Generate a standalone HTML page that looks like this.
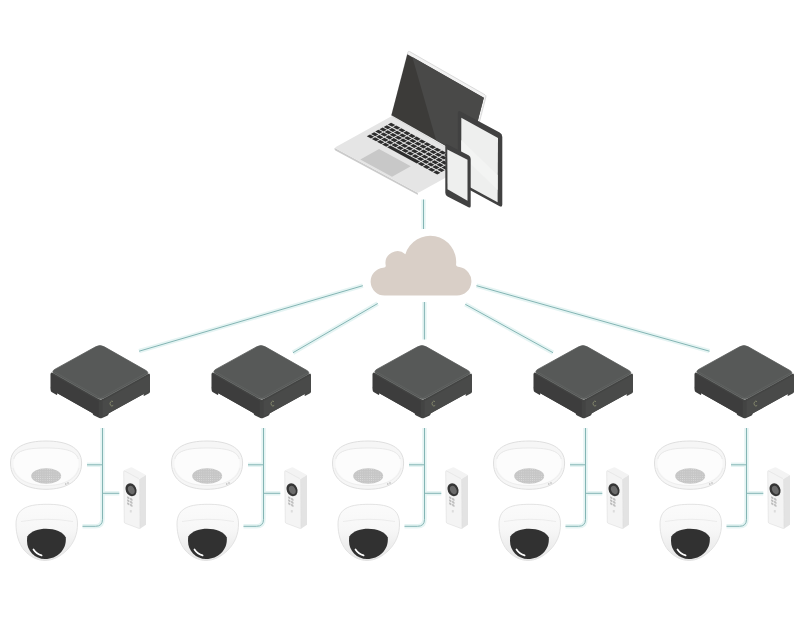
<!DOCTYPE html>
<html><head><meta charset="utf-8"><title>Network diagram</title>
<style>html,body{margin:0;padding:0;background:#fff;width:805px;height:644px;overflow:hidden;font-family:"Liberation Sans",sans-serif;}svg{display:block}</style>
</head><body>
<svg width="805" height="644" viewBox="0 0 805 644">
<defs><linearGradient id="hg" x1="0" y1="0" x2="0" y2="1"><stop offset="0" stop-color="#fbfbfb"/><stop offset="0.45" stop-color="#f7f7f7"/><stop offset="1" stop-color="#e6e6e6"/></linearGradient><pattern id="dots" width="2.2" height="2.2" patternUnits="userSpaceOnUse"><circle cx="1.1" cy="1.1" r="0.45" fill="#e2e2e2"/></pattern></defs>
<rect width="805" height="644" fill="#ffffff"/>
<line x1="423.5" y1="199.5" x2="423.5" y2="229" stroke="#e5f4f3" stroke-width="4.5"/><line x1="424.4" y1="302" x2="424.4" y2="339.5" stroke="#e5f4f3" stroke-width="4.5"/><line x1="362.8" y1="285.7" x2="139.1" y2="351.2" stroke="#e5f4f3" stroke-width="4.5"/><line x1="377.7" y1="303.5" x2="293" y2="352.7" stroke="#e5f4f3" stroke-width="4.5"/><line x1="465.3" y1="304.3" x2="553" y2="352.7" stroke="#e5f4f3" stroke-width="4.5"/><line x1="476.5" y1="285.7" x2="709.5" y2="351.2" stroke="#e5f4f3" stroke-width="4.5"/>
<line x1="423.5" y1="199.5" x2="423.5" y2="229" stroke="#84b5b4" stroke-width="1"/><line x1="424.4" y1="302" x2="424.4" y2="339.5" stroke="#84b5b4" stroke-width="1"/><line x1="362.8" y1="285.7" x2="139.1" y2="351.2" stroke="#84b5b4" stroke-width="1"/><line x1="377.7" y1="303.5" x2="293" y2="352.7" stroke="#84b5b4" stroke-width="1"/><line x1="465.3" y1="304.3" x2="553" y2="352.7" stroke="#84b5b4" stroke-width="1"/><line x1="476.5" y1="285.7" x2="709.5" y2="351.2" stroke="#84b5b4" stroke-width="1"/>
<path fill="#d9cfc7" d="M384.6,295.6 A14,14 0 0 1 383.14,267.68 Q386.38,267.71 385.68,265.28 A12,12 0 0 1 405.36,254.13 A26,26 0 0 1 456.10,264.07 Q455.70,266.86 459.50,267.02 A14.4,14.4 0 0 1 457,295.6 Z"/>
<path d="M334.5,148.7 Q334.5,147.7 335.38,148.18 L417.12,192.42 Q418,192.9 418,193.9 L418,194.1 Q418,195.1 417.12,194.62 L335.38,150.38 Q334.5,149.9 334.5,148.9 Z" fill="#cbcbcb" /><path d="M335.82,148.41 Q334.5,147.7 335.81,146.97 L390.09,116.93 Q391.4,116.2 392.72,116.91 L473.58,160.69 Q474.9,161.4 473.59,162.13 L419.31,192.17 Q418,192.9 416.68,192.19 Z" fill="#e5e5e5" /><path d="M407.92,52.25 Q408.3,50.8 409.6,51.55 L485,94.75 Q486.3,95.5 485.92,96.95 L469.78,159.45 Q469.4,160.9 468.1,160.15 L392.7,116.95 Q391.4,116.2 391.78,114.75 Z" fill="#f2f2f2" stroke="#d3d3d3" stroke-width="0.8"/><polygon points="407.3,54.3 483.8,97.7 467.9,158.6 391.4,115.2" fill="#3c3b39" /><polygon points="412.3,57.1 483.8,97.7 467.9,158.6 436,140" fill="#494948" /><polygon points="366.79,136.27 369.98,134.5 374.17,136.76 370.97,138.53" fill="#2d2d2d" /><polygon points="371.89,139.03 375.08,137.26 379.26,139.53 376.07,141.29" fill="#2d2d2d" /><polygon points="376.99,141.79 380.18,140.02 384.36,142.29 381.17,144.05" fill="#2d2d2d" /><polygon points="382.09,144.55 385.28,142.78 389.46,145.05 386.27,146.82" fill="#2d2d2d" /><polygon points="387.19,147.31 390.38,145.54 420.06,161.61 416.86,163.38" fill="#2d2d2d" /><polygon points="417.78,163.87 420.98,162.11 425.16,164.37 421.96,166.14" fill="#2d2d2d" /><polygon points="422.88,166.64 426.08,164.87 430.26,167.13 427.06,168.9" fill="#2d2d2d" /><polygon points="427.98,169.4 431.18,167.63 435.36,169.89 432.16,171.66" fill="#2d2d2d" /><polygon points="433.08,172.16 436.28,170.39 440.46,172.65 437.26,174.42" fill="#2d2d2d" /><polygon points="371.01,133.93 374.2,132.17 378.39,134.43 375.19,136.2" fill="#2d2d2d" /><polygon points="376.11,136.69 379.3,134.93 383.48,137.19 380.29,138.96" fill="#2d2d2d" /><polygon points="381.21,139.46 384.4,137.69 388.58,139.95 385.39,141.72" fill="#2d2d2d" /><polygon points="386.31,142.22 389.5,140.45 393.68,142.71 390.49,144.48" fill="#2d2d2d" /><polygon points="391.41,144.98 394.6,143.21 398.78,145.47 395.59,147.24" fill="#2d2d2d" /><polygon points="396.51,147.74 399.7,145.97 403.88,148.23 400.69,150" fill="#2d2d2d" /><polygon points="401.61,150.5 404.8,148.73 408.98,150.99 405.79,152.76" fill="#2d2d2d" /><polygon points="406.7,153.26 409.9,151.49 414.08,153.75 410.89,155.52" fill="#2d2d2d" /><polygon points="411.8,156.02 415,154.25 419.18,156.51 415.99,158.28" fill="#2d2d2d" /><polygon points="416.9,158.78 420.1,157.01 424.28,159.27 421.08,161.04" fill="#2d2d2d" /><polygon points="422,161.54 425.2,159.77 429.38,162.03 426.18,163.8" fill="#2d2d2d" /><polygon points="427.1,164.3 430.3,162.53 434.48,164.79 431.28,166.56" fill="#2d2d2d" /><polygon points="432.2,167.06 435.4,165.29 439.58,167.55 436.38,169.32" fill="#2d2d2d" /><polygon points="437.3,169.82 440.5,168.05 444.68,170.31 441.48,172.08" fill="#2d2d2d" /><polygon points="375.23,131.6 378.42,129.83 382.61,132.09 379.41,133.86" fill="#2d2d2d" /><polygon points="380.33,134.36 383.52,132.59 387.7,134.85 384.51,136.62" fill="#2d2d2d" /><polygon points="385.43,137.12 388.62,135.35 392.8,137.61 389.61,139.38" fill="#2d2d2d" /><polygon points="390.53,139.88 393.72,138.11 397.9,140.37 394.71,142.14" fill="#2d2d2d" /><polygon points="395.63,142.64 398.82,140.87 403,143.13 399.81,144.9" fill="#2d2d2d" /><polygon points="400.73,145.4 403.92,143.63 408.1,145.89 404.91,147.66" fill="#2d2d2d" /><polygon points="405.83,148.16 409.02,146.39 413.2,148.65 410.01,150.42" fill="#2d2d2d" /><polygon points="410.92,150.92 414.12,149.15 418.3,151.42 415.11,153.18" fill="#2d2d2d" /><polygon points="416.02,153.68 419.22,151.91 423.4,154.18 420.21,155.94" fill="#2d2d2d" /><polygon points="421.12,156.44 424.32,154.67 428.5,156.94 425.3,158.71" fill="#2d2d2d" /><polygon points="426.22,159.2 429.42,157.43 433.6,159.7 430.4,161.47" fill="#2d2d2d" /><polygon points="431.32,161.96 434.52,160.19 438.7,162.46 435.5,164.23" fill="#2d2d2d" /><polygon points="436.42,164.72 439.62,162.95 443.8,165.22 440.6,166.99" fill="#2d2d2d" /><polygon points="441.52,167.48 444.72,165.71 448.9,167.98 445.7,169.75" fill="#2d2d2d" /><polygon points="379.45,129.26 382.64,127.49 386.83,129.76 383.63,131.53" fill="#2d2d2d" /><polygon points="384.55,132.02 387.74,130.25 391.92,132.52 388.73,134.29" fill="#2d2d2d" /><polygon points="389.65,134.78 392.84,133.01 397.02,135.28 393.83,137.05" fill="#2d2d2d" /><polygon points="394.75,137.54 397.94,135.77 402.12,138.04 398.93,139.81" fill="#2d2d2d" /><polygon points="399.85,140.3 403.04,138.53 407.22,140.8 404.03,142.57" fill="#2d2d2d" /><polygon points="404.95,143.06 408.14,141.29 412.32,143.56 409.13,145.33" fill="#2d2d2d" /><polygon points="410.05,145.82 413.24,144.06 417.42,146.32 414.23,148.09" fill="#2d2d2d" /><polygon points="415.14,148.58 418.34,146.82 422.52,149.08 419.33,150.85" fill="#2d2d2d" /><polygon points="420.24,151.35 423.44,149.58 427.62,151.84 424.43,153.61" fill="#2d2d2d" /><polygon points="425.34,154.11 428.54,152.34 432.72,154.6 429.52,156.37" fill="#2d2d2d" /><polygon points="430.44,156.87 433.64,155.1 437.82,157.36 434.62,159.13" fill="#2d2d2d" /><polygon points="435.54,159.63 438.74,157.86 442.92,160.12 439.72,161.89" fill="#2d2d2d" /><polygon points="440.64,162.39 443.84,160.62 448.02,162.88 444.82,164.65" fill="#2d2d2d" /><polygon points="445.74,165.15 448.94,163.38 453.12,165.64 449.92,167.41" fill="#2d2d2d" /><polygon points="383.67,126.93 386.86,125.16 391.05,127.42 387.85,129.19" fill="#2d2d2d" /><polygon points="388.77,129.69 391.96,127.92 396.14,130.18 392.95,131.95" fill="#2d2d2d" /><polygon points="393.87,132.45 397.06,130.68 401.24,132.94 398.05,134.71" fill="#2d2d2d" /><polygon points="398.97,135.21 402.16,133.44 406.34,135.7 403.15,137.47" fill="#2d2d2d" /><polygon points="404.07,137.97 407.26,136.2 411.44,138.46 408.25,140.23" fill="#2d2d2d" /><polygon points="409.17,140.73 412.36,138.96 416.54,141.22 413.35,142.99" fill="#2d2d2d" /><polygon points="414.27,143.49 417.46,141.72 421.64,143.98 418.45,145.75" fill="#2d2d2d" /><polygon points="419.36,146.25 422.56,144.48 426.74,146.74 423.55,148.51" fill="#2d2d2d" /><polygon points="424.46,149.01 427.66,147.24 431.84,149.5 428.65,151.27" fill="#2d2d2d" /><polygon points="429.56,151.77 432.76,150 436.94,152.26 433.74,154.03" fill="#2d2d2d" /><polygon points="434.66,154.53 437.86,152.76 442.04,155.02 438.84,156.79" fill="#2d2d2d" /><polygon points="439.76,157.29 442.96,155.52 447.14,157.78 443.94,159.55" fill="#2d2d2d" /><polygon points="444.86,160.05 448.06,158.28 452.24,160.54 449.04,162.31" fill="#2d2d2d" /><polygon points="449.96,162.81 453.16,161.04 457.34,163.31 454.14,165.07" fill="#2d2d2d" /><polygon points="387.89,124.59 391.08,122.82 395.27,125.08 392.07,126.85" fill="#2d2d2d" /><polygon points="392.99,127.35 396.18,125.58 400.37,127.84 397.17,129.61" fill="#2d2d2d" /><polygon points="398.09,130.11 401.28,128.34 405.46,130.6 402.27,132.37" fill="#2d2d2d" /><polygon points="403.19,132.87 406.38,131.1 410.56,133.36 407.37,135.13" fill="#2d2d2d" /><polygon points="408.29,135.63 411.48,133.86 415.66,136.13 412.47,137.89" fill="#2d2d2d" /><polygon points="413.39,138.39 416.58,136.62 420.76,138.89 417.57,140.65" fill="#2d2d2d" /><polygon points="418.49,141.15 421.68,139.38 425.86,141.65 422.67,143.42" fill="#2d2d2d" /><polygon points="423.59,143.91 426.78,142.14 430.96,144.41 427.77,146.18" fill="#2d2d2d" /><polygon points="428.68,146.67 431.88,144.9 436.06,147.17 432.87,148.94" fill="#2d2d2d" /><polygon points="433.78,149.43 436.98,147.66 441.16,149.93 437.96,151.7" fill="#2d2d2d" /><polygon points="438.88,152.19 442.08,150.42 446.26,152.69 443.06,154.46" fill="#2d2d2d" /><polygon points="443.98,154.95 447.18,153.18 451.36,155.45 448.16,157.22" fill="#2d2d2d" /><polygon points="449.08,157.71 452.28,155.95 456.46,158.21 453.26,159.98" fill="#2d2d2d" /><polygon points="454.18,160.47 457.38,158.71 461.56,160.97 458.36,162.74" fill="#2d2d2d" /><polygon points="360.29,159.48 379.07,149.08 410.8,166.26 392.02,176.66" fill="#c8c8c8" /><path d="M457.9,113.1 Q457.9,110.1 460.54,111.52 L499.66,132.58 Q502.3,134 502.3,137 L502.3,204.6 Q502.3,207.6 499.66,206.18 L460.54,185.12 Q457.9,183.7 457.9,180.7 Z" fill="#414141" /><polygon points="461.3,117.8 498,138 497.6,202.3 461.3,182.6" fill="#eeefee" /><polygon points="461.3,140 497.6,175 497.6,190 461.3,155" fill="#f3f4f3" /><path d="M445.3,145.8 Q445.3,143.3 447.52,144.45 L468.48,155.25 Q470.7,156.4 470.7,158.9 L470.7,205.9 Q470.7,208.4 468.48,207.25 L447.52,196.45 Q445.3,195.3 445.3,192.8 Z" fill="#414141" /><polygon points="447.3,149.4 467.5,159.8 467.5,200.8 447.5,189.2" fill="#eeefee" />
<g id="unit"><path d="M102.5,428 V519.3 Q102.5,526.3 95.5,526.3 H82.5" fill="none" stroke="#e5f4f3" stroke-width="4.5"/><path d="M87,464.8 H102.6" fill="none" stroke="#e5f4f3" stroke-width="4.5"/><path d="M102.6,493.3 H119.3" fill="none" stroke="#e5f4f3" stroke-width="4.5"/><path d="M102.5,428 V519.3 Q102.5,526.3 95.5,526.3 H82.5" fill="none" stroke="#84b5b4" stroke-width="1"/><path d="M87,464.8 H102.6" fill="none" stroke="#84b5b4" stroke-width="1"/><path d="M102.6,493.3 H119.3" fill="none" stroke="#84b5b4" stroke-width="1"/><path d="M50.7,374.1 Q50.7,371.6 52.87,372.83 L98.53,398.77 Q100.7,400 102.89,398.79 L147.81,374.01 Q150,372.8 150,375.3 L150,388.1 Q150,390.6 147.81,391.81 L102.89,416.59 Q100.7,417.8 98.53,416.57 L52.87,390.63 Q50.7,389.4 50.7,386.9 Z" fill="#434443" /><path d="M50.7,387.4 Q50.7,386.4 51.57,386.89 L56.33,389.6 Q57.2,390.09 57.2,391.09 L57.2,394.29 Q57.2,395.29 56.33,394.8 L51.57,392.09 Q50.7,391.6 50.7,390.6 Z" fill="#3c3c3c" /><path d="M150,388.6 Q150,387.6 149.12,388.08 L144.47,390.65 Q143.59,391.14 143.59,392.14 L143.59,395.34 Q143.59,396.34 144.47,395.85 L149.12,393.28 Q150,392.8 150,391.8 Z" fill="#474847" /><path d="M92.7,411.76 Q92.7,410.26 94,411 L99.4,414.06 Q100.7,414.8 102.01,414.08 L107.27,411.17 Q108.59,410.45 108.59,411.95 L108.59,413.65 Q108.59,415.15 107.21,415.73 L102.08,417.91 Q100.7,418.5 99.33,417.89 L94.07,415.56 Q92.7,414.96 92.7,413.46 Z" fill="#424342" /><polygon points="50.7,373.6 100.7,402 100.7,417.8 50.7,389.4" fill="#3d3d3d" /><polygon points="100.7,402 150,374.8 150,390.6 100.7,417.8" fill="#494a49" /><polygon points="98.7,400.86 100.7,402 102.67,400.91 102.67,416.71 100.7,417.8 98.7,416.66" fill="#434443" /><path d="M95.62,346.82 Q100,344.4 104.35,346.87 L145.65,370.33 Q150,372.8 145.62,375.22 L105.08,397.58 Q100.7,400 96.35,397.53 L55.05,374.07 Q50.7,371.6 55.08,369.18 Z" fill="#575958" stroke="#5b5d5c" stroke-width="0.8"/><path d="M54.18,371.64 L100.68,398.05 L146.52,372.76" fill="none" stroke="#626463" stroke-width="0.7" stroke-linejoin="round"/><path d="M113,401.6 A1.9,2.4 0 1 0 113.2,405.4" fill="none" stroke="#8e9272" stroke-width="0.8"/><path d="M10.5,463 C10.5,447 26,441 46,441 C66,441 81.6,447 81.6,463 C81.6,481 66,489.3 46,489.3 C26,489.3 10.5,481 10.5,463 Z" fill="#f6f6f6" stroke="#dbdbdb" stroke-width="0.9"/><path d="M13.5,463 C13.5,451 27,448 46,448 C65,448 78.6,451 78.6,463 C78.6,477 64,485.5 46,485.5 C28,485.5 13.5,477 13.5,463 Z" fill="#fcfcfc"/><path d="M13.8,459 C16,450 29,448 46,448 C63,448 76,450 78.3,459" fill="none" stroke="#e4e4e4" stroke-width="0.8"/><path d="M13,468 C16,480 29,485.5 46,485.5 C63,485.5 76,480 79,468" fill="none" stroke="#ebebeb" stroke-width="0.8"/><ellipse cx="46.2" cy="476" rx="15" ry="7.8" fill="#c6c6c6"/><ellipse cx="46.2" cy="476" rx="15" ry="7.8" fill="url(#dots)"/><circle cx="65.8" cy="484" r="0.8" fill="#b0b0b0"/><circle cx="68" cy="483" r="0.8" fill="#b0b0b0"/><path d="M16,524 C16,507 30,504.3 47,504.3 C64,504.3 77.5,507 77.5,524 C77.5,534 74,543 67,550 C60,557 52,560.5 45,560.5 C38,560.5 30,557 24,550 C18.5,543 16,534 16,524 Z" fill="url(#hg)" stroke="#e0e0e0" stroke-width="0.9"/><path d="M21,521.5 Q47,517 73,521.5" fill="none" stroke="#e8e8e8" stroke-width="0.8"/><path d="M27.3,536.5 C31,531 39,528.8 46,528.8 C55,528.8 63,532 65.8,537.5 C66.8,550 57,559 45,559 C35,559 27,551 27,541 C27,539.5 27.1,538 27.3,536.5 Z" fill="#313131"/><path d="M33.5,549.5 Q36.5,554 41.6,555.4" fill="none" stroke="#ffffff" stroke-width="1.7" stroke-linecap="round"/><path d="M124.58,470.97 Q123.7,470.5 124.61,470.08 L130.39,467.42 Q131.3,467 132.18,467.48 L145.12,474.52 Q146,475 145.15,475.52 L140.35,478.48 Q139.5,479 138.62,478.53 Z" fill="#f3f3f3" /><polygon points="139.5,479 146,475 146,524.7 140,528.8" fill="#e3e3e3" /><path d="M123.71,471.5 Q123.7,470.5 124.58,470.97 L138.62,478.53 Q139.5,479 139.51,480 L139.99,527.8 Q140,528.8 139.06,528.45 L125.24,523.35 Q124.3,523 124.29,522 Z" fill="#f4f4f4" stroke="#dedede" stroke-width="0.6"/><ellipse cx="131" cy="489.7" rx="5.3" ry="6.7" fill="#353535" transform="rotate(-25 131 489.7)"/><ellipse cx="131.3" cy="490" rx="3.1" ry="4.3" fill="#6b6b6b" transform="rotate(-25 131.3 490)"/><rect x="127.1" y="496.7" width="2.4" height="2.2" rx="0.6" fill="#bdbdbd" transform="skewY(28) translate(0,-68.22)"/><rect x="130.1" y="498.3" width="2.4" height="2.2" rx="0.6" fill="#bdbdbd" transform="skewY(28) translate(0,-69.81)"/><rect x="127.1" y="499.7" width="2.4" height="2.2" rx="0.6" fill="#bdbdbd" transform="skewY(28) translate(0,-68.22)"/><rect x="130.1" y="501.3" width="2.4" height="2.2" rx="0.6" fill="#bdbdbd" transform="skewY(28) translate(0,-69.81)"/><rect x="127.1" y="502.7" width="2.4" height="2.2" rx="0.6" fill="#bdbdbd" transform="skewY(28) translate(0,-68.22)"/><rect x="130.1" y="504.3" width="2.4" height="2.2" rx="0.6" fill="#bdbdbd" transform="skewY(28) translate(0,-69.81)"/><rect x="129.8" y="510" width="2" height="2.5" rx="0.5" fill="#dcdcdc"/></g>
<use href="#unit" transform="translate(161,0)"/>
<use href="#unit" transform="translate(322,0)"/>
<use href="#unit" transform="translate(483,0)"/>
<use href="#unit" transform="translate(644,0)"/>
</svg>
</body></html>
